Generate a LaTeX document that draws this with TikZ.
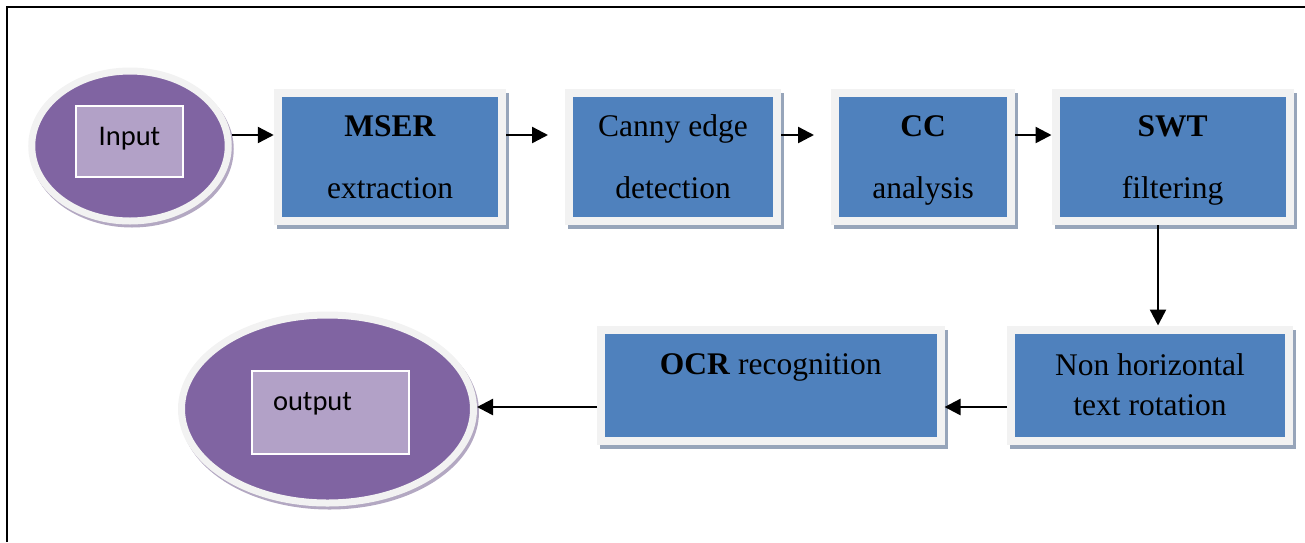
\documentclass[tikz,border=0pt]{standalone}
\usepackage{fontspec}
\setmainfont{Liberation Serif}
\newfontfamily\calibri{Carlito}
\usetikzlibrary{shapes.geometric,shadows,arrows.meta}
\definecolor{boxblue}{HTML}{4F81BD}
\definecolor{rimgray}{HTML}{F2F2F2}
\definecolor{boxshadow}{HTML}{97A5BA}
\definecolor{ovalpurple}{HTML}{8064A2}
\definecolor{ovalshadow}{HTML}{B3A8C2}
\definecolor{labelpurple}{HTML}{B2A1C7}

\begin{document}
\begin{tikzpicture}[x=1pt,y=-1pt,
  stage/.style={rectangle, fill=boxblue, draw=rimgray, line width=8pt,
    align=center, text depth=0pt, inner sep=0pt,
    font=\fontsize{31.5}{62}\selectfont,
    drop shadow={shadow xshift=3pt, shadow yshift=-4pt, fill=boxshadow,
      draw=boxshadow, line width=8pt, opacity=1}},
  terminal/.style={ellipse, fill=ovalpurple, draw=rimgray, line width=7pt,
    inner sep=0pt,
    drop shadow={shadow xshift=2pt, shadow yshift=-3pt, fill=ovalshadow,
      draw=ovalshadow, line width=7pt, opacity=1}},
  tag/.style={rectangle, fill=labelpurple, draw=white, line width=1.5pt,
    inner sep=0pt, font=\calibri\fontsize{28.5}{34}\selectfont},
  flow/.style={line width=2.4pt, -{Triangle[length=16pt,width=16pt]}}
]
\useasboundingbox (0,0) rectangle (1305,542);

% page frame
\draw[line width=2.5pt, line join=miter] (7,542) -- (7,7) -- (1305,7);

% start and end ovals
\node[terminal, minimum width=196.5pt, minimum height=150pt] (in) at (130,146) {};
\node[tag, minimum width=107pt, minimum height=71pt, text height=20pt, text depth=13pt]
  (inlabel) at (129.5,141.5) {Input};

\node[terminal, minimum width=292pt, minimum height=188pt] (out) at (327.5,409) {};
\node[tag, minimum width=157pt, minimum height=83pt, text width=115pt, align=left,
  text height=20pt, text depth=25pt] (outlabel) at (330.5,412.5) {output};

% processing stages
\node[stage, minimum width=224.5pt, minimum height=128pt] (mser) at (390,157)
  {\textbf{MSER}\\extraction};
\node[stage, minimum width=208pt, minimum height=128pt] (canny) at (673,157)
  {Canny edge\\detection};
\node[stage, minimum width=176pt, minimum height=128pt] (cc) at (923,157)
  {\textbf{CC}\\analysis};
\node[stage, minimum width=234pt, minimum height=128pt] (swt) at (1172.5,157)
  {\textbf{SWT}\\filtering};
\node[stage, minimum width=278pt, minimum height=111pt,
  font=\fontsize{31.5}{40}\selectfont] (rot) at (1150,385)
  {Non horizontal\\text rotation};
\node[stage, minimum width=339.5pt, minimum height=111pt, text depth=42pt]
  (ocr) at (770.75,385.5) {\textbf{OCR} recognition};

% connectors
\coordinate (upper) at (0,135);
\coordinate (lower) at (0,407);
\coordinate (drop) at (1158,0);
\draw[flow] (in.east |- upper) -- (mser.west |- upper);
\draw[flow, shorten >=17pt] (mser.east |- upper) -- (canny.west |- upper);
\draw[flow, shorten >=17pt] (canny.east |- upper) -- (cc.west |- upper);
\draw[flow] (cc.east |- upper) -- (swt.west |- upper);
\draw[flow] (swt.south -| drop) -- (rot.north -| drop);
\draw[flow] (rot.west |- lower) -- (ocr.east |- lower);
\draw[flow] (ocr.west |- lower) -- (out.east |- lower);
\end{tikzpicture}
\end{document}
